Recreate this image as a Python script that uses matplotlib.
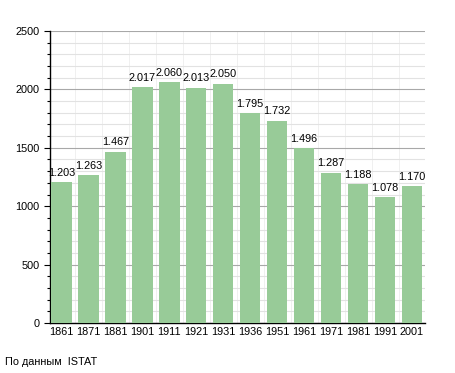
import matplotlib
matplotlib.use("Agg")
import matplotlib.pyplot as plt
from matplotlib.ticker import MultipleLocator

years = ["1861", "1871", "1881", "1901", "1911", "1921", "1931", "1936",
         "1951", "1961", "1971", "1981", "1991", "2001"]
population = [1203, 1263, 1467, 2017, 2060, 2013, 2050, 1795,
              1732, 1496, 1287, 1188, 1078, 1170]
value_labels = ["1.203", "1.263", "1.467", "2.017", "2.060", "2.013", "2.050",
                "1.795", "1.732", "1.496", "1.287", "1.188", "1.078", "1.170"]

plt.rcParams['font.family'] = ['Liberation Sans', 'DejaVu Sans']

fig = plt.figure(figsize=(4.55, 3.73), dpi=100)
ax = fig.add_axes([0.110, 0.134, 0.824, 0.783])

x = list(range(len(years)))
ax.bar(x, population, width=0.76, color="#98cb98", zorder=3)
for xi, v, lab in zip(x, population, value_labels):
    ax.text(xi, v + 38, lab, ha="center", va="bottom", fontsize=7.8, zorder=4)

ax.set_xlim(-0.42, 13.48)
ax.set_ylim(0, 2500)
ax.set_xticks(x)
ax.set_xticklabels(years, fontsize=7.8)
ax.yaxis.set_major_locator(MultipleLocator(500))
ax.yaxis.set_minor_locator(MultipleLocator(100))
ax.tick_params(axis="y", which="major", length=4, labelsize=7.8, width=0.8)
ax.tick_params(axis="y", which="minor", length=2, width=0.8)
ax.tick_params(axis="x", length=0, labelsize=7.8, pad=3)

ax.grid(axis="y", which="major", color="#a8a8a8", linewidth=0.8, zorder=0)
ax.grid(axis="y", which="minor", color="#e2e2e2", linewidth=0.8, zorder=0)
for b in [xi + 0.5 for xi in x[:-1]]:
    ax.axvline(b, color="#f0f0f0", linewidth=0.7, zorder=0)

for s in ["top", "right"]:
    ax.spines[s].set_visible(False)
ax.spines["left"].set_linewidth(1.0)
ax.spines["bottom"].set_linewidth(1.0)

fig.text(5/455, 1 - 362/373, "По данным  ISTAT", fontsize=7.8, va="center", ha="left")

fig.savefig("out.png", dpi=100)
